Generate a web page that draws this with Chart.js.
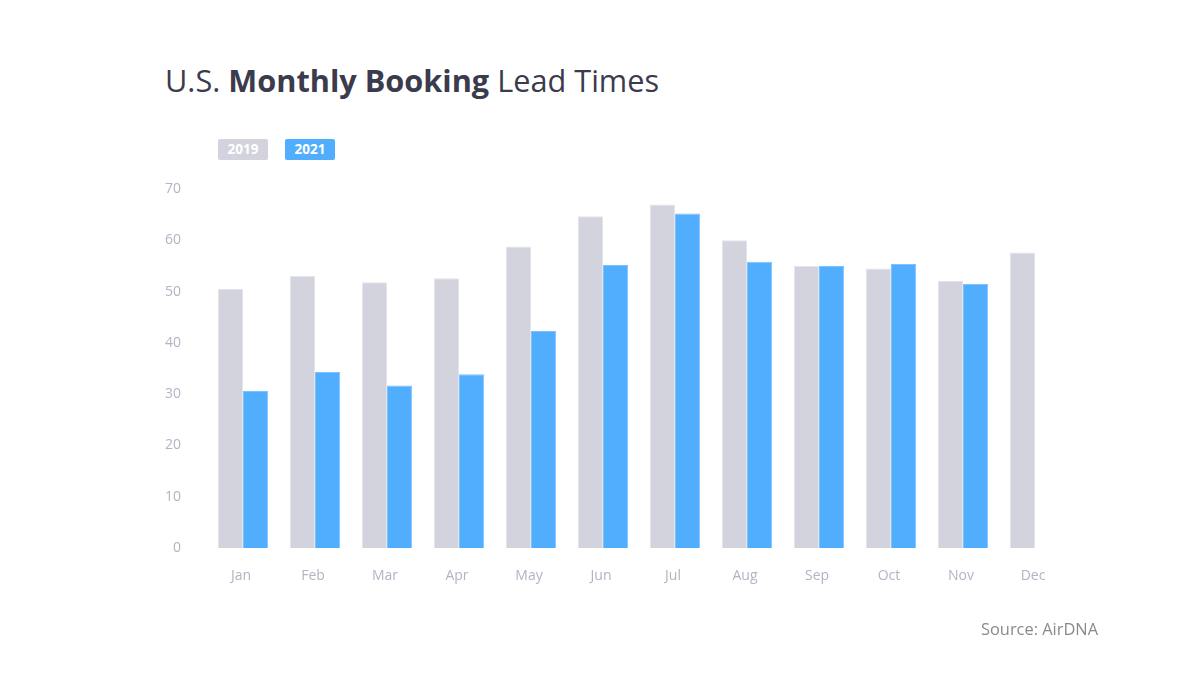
<!DOCTYPE html>
<html lang="en">
<head>
  <meta charset="UTF-8" />
  <title>U.S. Monthly Booking Lead Times</title>
  <script src="https://cdn.jsdelivr.net/npm/chart.js"></script>
  <style>
    html, body { margin: 0; padding: 0; background: #fff; }
    body { width: 1200px; height: 676px; position: relative; overflow: hidden; font-family: "Open Sans", sans-serif; }
    #chart { position: absolute; left: 0; top: 0; }
    .title { position: absolute; left: 165px; top: 59px; font-size: 30.7px; color: #3b3b4d; white-space: nowrap; }
    .title b { font-weight: 700; }
    .legend { position: absolute; top: 139px; height: 21px; width: 50px; border-radius: 2px;
      color: #fff; font-weight: 700; font-size: 13.5px; line-height: 21px; text-align: center; }
    .source { position: absolute; left: 981px; top: 617px; font-size: 16.4px; color: #8a8a8a; }
  </style>
</head>
<body>
  <div class="title">U.S. <b>Monthly Booking</b> Lead Times</div>
  <div class="legend" style="left:218px;background:#d3d3de">2019</div>
  <div class="legend" style="left:285px;background:#51adfd">2021</div>
  <canvas id="chart" width="1200" height="676"></canvas>
  <div class="source">Source: AirDNA</div>

  <script>
    const months = ['Jan', 'Feb', 'Mar', 'Apr', 'May', 'Jun', 'Jul', 'Aug', 'Sep', 'Oct', 'Nov', 'Dec'];
    const lead2019 = [50.5, 53.1, 51.8, 52.6, 58.8, 64.7, 67.0, 60.0, 55.0, 54.5, 52.1, 57.6];
    const lead2021 = [30.6, 34.3, 31.7, 33.9, 42.3, 55.2, 65.2, 55.8, 55.0, 55.4, 51.5, null];
    const yTicks = [0, 10, 20, 30, 40, 50, 60, 70];

    const tickColor = '#b3b3c4';

    new Chart(document.getElementById('chart'), {
      type: 'bar',
      data: {
        labels: months,
        datasets: [
          {
            label: '2019',
            data: lead2019,
            backgroundColor: '#d3d3de',
            borderColor: '#e4e4ec',
            borderWidth: 1,
            categoryPercentage: 0.7,
            barPercentage: 1.0
          },
          {
            label: '2021',
            data: lead2021,
            backgroundColor: '#51adfd',
            borderColor: '#7cc2fd',
            borderWidth: 1,
            categoryPercentage: 0.7,
            barPercentage: 1.0
          }
        ]
      },
      options: {
        responsive: false,
        animation: false,
        layout: { padding: { left: 165, right: 129, top: 189, bottom: 88 } },
        plugins: {
          legend: { display: false },
          tooltip: { enabled: false }
        },
        scales: {
          x: {
            grid: { display: false, drawTicks: false },
            border: { display: false },
            ticks: { color: tickColor, padding: 20, labelOffset: -2, font: { family: 'Open Sans', size: 14 } },
            afterFit: s => { s.height = 40; }
          },
          y: {
            min: 0,
            max: 70,
            afterBuildTicks: s => { s.ticks = yTicks.map(v => ({ value: v })); },
            grid: { display: false, drawTicks: false },
            border: { display: false },
            ticks: { color: tickColor, padding: 26, font: { family: 'Open Sans', size: 14 } },
            afterFit: s => { s.width = 42; }
          }
        }
      }
    });
  </script>
</body>
</html>
